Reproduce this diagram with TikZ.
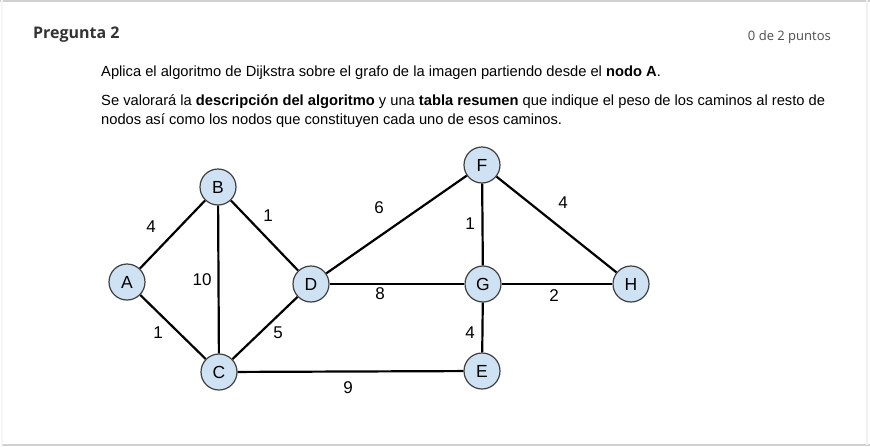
\documentclass[tikz,border=0pt]{standalone}
\usepackage{fontspec}
\setmainfont{Liberation Sans}
\newfontfamily\headfont{Open Sans}
\definecolor{nodefill}{HTML}{CFE2F3}
\definecolor{nodeline}{HTML}{404040}
\definecolor{cardline}{HTML}{D0D0D0}
\begin{document}
\begin{tikzpicture}[x=1pt, y=-1pt,
	vertex/.style={circle, draw=nodeline, fill=nodefill, line width=1.2pt, minimum size=36pt, inner sep=0pt, font=\fontsize{17.5}{17.5}\selectfont},
	edge/.style={line width=2.2pt, black},
	weight/.style={font=\fontsize{17}{17}\selectfont, inner sep=0pt}]
	\useasboundingbox (0, 0) rectangle (870, 447);
	\fill[white] (2, 0) rectangle (867, 445);
	\draw[cardline, line width=2pt] (0, 1) -- (870, 1);
	\draw[cardline, line width=2pt] (2, 445) -- (870, 445);
	\draw[black!6, line width=1.5pt] (867, 0) -- (867, 445);
	\draw[black!4, line width=1.5pt] (2, 0) -- (2, 445);
	% header and statement
	\node[anchor=base west, inner sep=0pt, font=\headfont\bfseries\fontsize{16}{16}\selectfont, text=black!80] (title) at (33, 38) {Pregunta 2};
	\node[anchor=base east, inner sep=0pt, font=\headfont\fontsize{13}{13}\selectfont, text=black!70] (score) at (831, 40) {0 de 2 puntos};
	\node[anchor=base west, inner sep=0pt, font=\fontsize{14.7}{19}\selectfont] (line1) at (101, 76) {Aplica el algoritmo de Dijkstra sobre el grafo de la imagen partiendo desde el \textbf{nodo A}.};
	\node[anchor=north west, inner sep=0pt, align=left, font=\fontsize{14.7}{19}\selectfont] (line2) at (101, 94) {Se valorará la \textbf{descripción del algoritmo} y una \textbf{tabla resumen} que indique el peso de los caminos al resto de\\nodos así como los nodos que constituyen cada uno de esos caminos.};
	% graph
	\node[vertex] (A) at (127, 282) {A};
	\node[vertex] (B) at (218, 187) {B};
	\node[vertex] (C) at (219, 372) {C};
	\node[vertex] (D) at (311, 284) {D};
	\node[vertex] (E) at (482, 371) {E};
	\node[vertex] (F) at (482, 165) {F};
	\node[vertex] (G) at (483, 284) {G};
	\node[vertex] (H) at (631, 284) {H};
	\draw[edge] (A) -- (B);
	\draw[edge] (A) -- (C);
	\draw[edge] (B) -- (C);
	\draw[edge] (B) -- (D);
	\draw[edge] (C) -- (D);
	\draw[edge] (C) -- (E);
	\draw[edge] (D) -- (F);
	\draw[edge] (D) -- (G);
	\draw[edge] (F) -- (G);
	\draw[edge] (F) -- (H);
	\draw[edge] (G) -- (H);
	\draw[edge] (G) -- (E);
	\path[weight] (151, 227) node (wAB) {4}
	(158, 333) node (wAC) {1}
	(202, 280) node (wBC) {10}
	(268, 216) node (wBD) {1}
	(278, 333) node (wCD) {5}
	(348, 388) node (wCE) {9}
	(379, 208) node (wDF) {6}
	(380, 294) node (wDG) {8}
	(470, 224) node (wFG) {1}
	(563, 203) node (wFH) {4}
	(554, 296) node (wGH) {2}
	(470, 333) node (wGE) {4};
\end{tikzpicture}
\end{document}
